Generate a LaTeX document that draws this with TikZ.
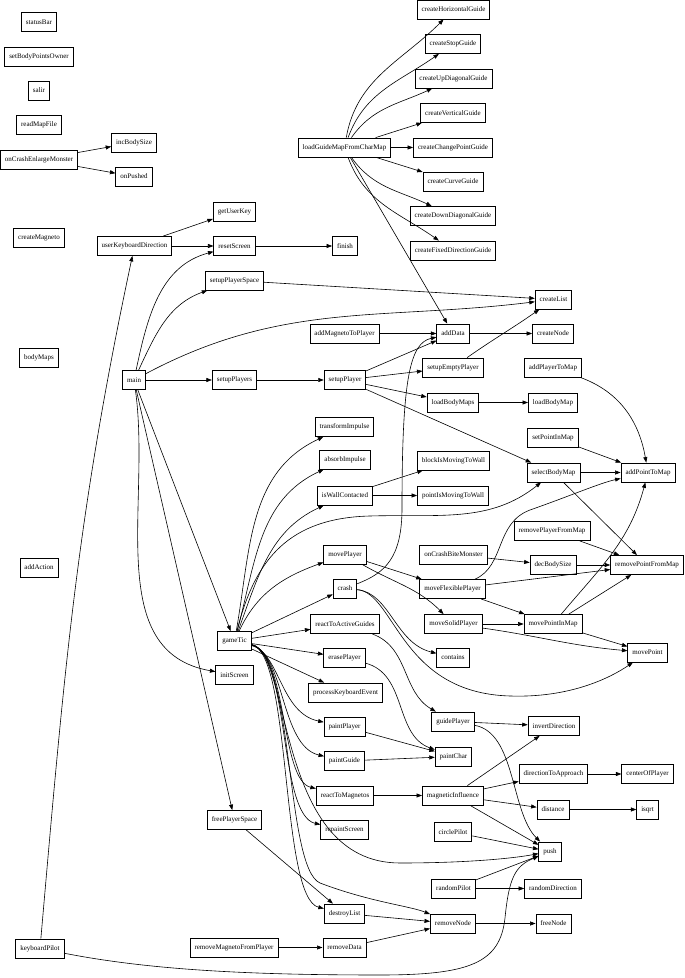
\documentclass[tikz,border=0pt]{standalone}
\usepackage{fontspec}
\setmainfont{Liberation Serif}
\usetikzlibrary{arrows.meta}

\begin{document}
\begin{tikzpicture}[x=1pt,y=1pt,
    fn/.style={draw, line width=0.8pt, minimum height=19pt, inner xsep=4.5pt, inner ysep=0pt,
      font=\fontsize{7}{8}\selectfont},
    call/.style={-{Triangle[length=5.5pt,width=4pt]}, line width=0.6pt}]
    \useasboundingbox (0,0) rectangle (685,978);
    % Functions nobody calls
    \node[fn] (statusBar) at (39,956) {statusBar};
    \node[fn] (setBodyPointsOwner) at (39,921.5) {setBodyPointsOwner};
    \node[fn] (salir) at (39,887.5) {salir};
    \node[fn] (readMapFile) at (39,853) {readMapFile};
    \node[fn] (onCrashEnlargeMonster) at (39,818.5) {onCrashEnlargeMonster};
    \node[fn] (createMagneto) at (39,740.5) {createMagneto};
    \node[fn] (bodyMaps) at (39,620) {bodyMaps};
    \node[fn] (addAction) at (39,410.5) {addAction};
    \node[fn] (keyboardPilot) at (40,29.5) {keyboardPilot};
    % Second column
    \node[fn] (incBodySize) at (134,835.5) {incBodySize};
    \node[fn] (onPushed) at (134,801.5) {onPushed};
    \node[fn] (userKeyboardDirection) at (134.5,732) {userKeyboardDirection};
    \node[fn] (main) at (134,598) {main};
    % Third column
    \node[fn] (getUserKey) at (234.5,766.5) {getUserKey};
    \node[fn] (resetScreen) at (234.5,732) {resetScreen};
    \node[fn] (setupPlayerSpace) at (234.5,697.5) {setupPlayerSpace};
    \node[fn] (setupPlayers) at (234.5,598) {setupPlayers};
    \node[fn] (gameTic) at (234.5,337) {gameTic};
    \node[fn] (initScreen) at (234.5,303) {initScreen};
    \node[fn] (freePlayerSpace) at (234.5,158) {freePlayerSpace};
    \node[fn] (removeMagnetoFromPlayer) at (234,30.5) {removeMagnetoFromPlayer};
    % Fourth column
    \node[fn] (loadGuideMapFromCharMap) at (344.5,830.5) {loadGuideMapFromCharMap};
    \node[fn] (finish) at (345,732) {finish};
    \node[fn] (addMagnetoToPlayer) at (344.5,644.5) {addMagnetoToPlayer};
    \node[fn] (setupPlayer) at (345,598) {setupPlayer};
    \node[fn] (transformImpulse) at (344.5,551) {transformImpulse};
    \node[fn] (absorbImpulse) at (345,518.5) {absorbImpulse};
    \node[fn] (isWallContacted) at (345,482.5) {isWallContacted};
    \node[fn] (movePlayer) at (345,423.5) {movePlayer};
    \node[fn] (crash) at (345,389.5) {crash};
    \node[fn] (reactToActiveGuides) at (345,354) {reactToActiveGuides};
    \node[fn] (erasePlayer) at (344.5,320.5) {erasePlayer};
    \node[fn] (processKeyboardEvent) at (345.5,285.5) {processKeyboardEvent};
    \node[fn] (paintPlayer) at (344.5,251.5) {paintPlayer};
    \node[fn] (paintGuide) at (344.5,217) {paintGuide};
    \node[fn] (reactToMagnetos) at (345,182.5) {reactToMagnetos};
    \node[fn] (repaintScreen) at (344.5,148) {repaintScreen};
    \node[fn] (destroyList) at (344.5,64.5) {destroyList};
    \node[fn] (removeData) at (344.5,30.5) {removeData};
    % Fifth column
    \node[fn] (createHorizontalGuide) at (453.5,968.5) {createHorizontalGuide};
    \node[fn] (createStopGuide) at (453,934) {createStopGuide};
    \node[fn] (createUpDiagonalGuide) at (453.5,899.5) {createUpDiagonalGuide};
    \node[fn] (createVerticalGuide) at (453,865) {createVerticalGuide};
    \node[fn] (createChangePointGuide) at (453,830.5) {createChangePointGuide};
    \node[fn] (createCurveGuide) at (453,796.5) {createCurveGuide};
    \node[fn] (createDownDiagonalGuide) at (453,762) {createDownDiagonalGuide};
    \node[fn] (createFixedDirectionGuide) at (453,727.5) {createFixedDirectionGuide};
    \node[fn] (addData) at (453,644.5) {addData};
    \node[fn] (setupEmptyPlayer) at (453,610.5) {setupEmptyPlayer};
    \node[fn] (loadBodyMaps) at (453,575.5) {loadBodyMaps};
    \node[fn] (blockIsMovingToWall) at (453.5,517.5) {blockIsMovingToWall};
    \node[fn] (pointIsMovingToWall) at (453,482.5) {pointIsMovingToWall};
    \node[fn] (onCrashBiteMonster) at (453.5,423.5) {onCrashBiteMonster};
    \node[fn] (moveFlexiblePlayer) at (452.5,389) {moveFlexiblePlayer};
    \node[fn] (moveSolidPlayer) at (453.5,354) {moveSolidPlayer};
    \node[fn] (contains) at (453,320.5) {contains};
    \node[fn] (guidePlayer) at (453,256.5) {guidePlayer};
    \node[fn] (paintChar) at (453.5,221.5) {paintChar};
    \node[fn] (magneticInfluence) at (453,182.5) {magneticInfluence};
    \node[fn] (circlePilot) at (453,146) {circlePilot};
    \node[fn] (randomPilot) at (453.5,89.5) {randomPilot};
    \node[fn] (removeNode) at (453,54.5) {removeNode};
    % Sixth column
    \node[fn] (createList) at (553.5,678.5) {createList};
    \node[fn] (createNode) at (553,644.5) {createNode};
    \node[fn] (addPlayerToMap) at (553,610.5) {addPlayerToMap};
    \node[fn] (loadBodyMap) at (553,575.5) {loadBodyMap};
    \node[fn] (setPointInMap) at (553,540.5) {setPointInMap};
    \node[fn] (selectBodyMap) at (553.5,505.5) {selectBodyMap};
    \node[fn] (removePlayerFromMap) at (552,447) {removePlayerFromMap};
    \node[fn] (decBodySize) at (553,413) {decBodySize};
    \node[fn] (movePointInMap) at (553,354) {movePointInMap};
    \node[fn] (invertDirection) at (554,252) {invertDirection};
    \node[fn] (directionToApproach) at (553.5,204) {directionToApproach};
    \node[fn] (distance) at (553,168.5) {distance};
    \node[fn] (push) at (550,126.5) {push};
    \node[fn] (randomDirection) at (553,89.5) {randomDirection};
    \node[fn] (freeNode) at (553.5,54.5) {freeNode};
    % Last column
    \node[fn] (addPointToMap) at (648,505.5) {addPointToMap};
    \node[fn] (removePointFromMap) at (647,413) {removePointFromMap};
    \node[fn] (movePoint) at (647.5,325.5) {movePoint};
    \node[fn] (centerOfPlayer) at (647.5,204) {centerOfPlayer};
    \node[fn] (isqrt) at (647.5,168.5) {isqrt};

    % Calls, top part
    \draw[call] (onCrashEnlargeMonster) -- (incBodySize);
    \draw[call] (onCrashEnlargeMonster) -- (onPushed);
    \draw[call] (userKeyboardDirection) -- (getUserKey);
    \draw[call] (userKeyboardDirection) -- (resetScreen);
    \draw[call] (resetScreen) -- (finish);
    \draw[call] (loadGuideMapFromCharMap) to[out=80,in=-135] (createHorizontalGuide);
    \draw[call] (loadGuideMapFromCharMap) to[out=70,in=-145] (createStopGuide);
    \draw[call] (loadGuideMapFromCharMap) to[out=55,in=-155] (createUpDiagonalGuide);
    \draw[call] (loadGuideMapFromCharMap) -- (createVerticalGuide);
    \draw[call] (loadGuideMapFromCharMap) -- (createChangePointGuide);
    \draw[call] (loadGuideMapFromCharMap) -- (createCurveGuide);
    \draw[call] (loadGuideMapFromCharMap) to[out=-55,in=155] (createDownDiagonalGuide);
    \draw[call] (loadGuideMapFromCharMap) to[out=-70,in=145] (createFixedDirectionGuide);
    \draw[call] (loadGuideMapFromCharMap) -- (addData);
    % main
    \draw[call] (main) to[out=78,in=195] (resetScreen);
    \draw[call] (main) to[out=65,in=200] (setupPlayerSpace);
    \draw[call] (main) to[out=28,in=187] (createList);
    \draw[call] (main) -- (setupPlayers);
    \draw[call] (main) -- (gameTic);
    \draw[call] (main) to[out=-82,in=170] (initScreen);
    \draw[call] (main) -- (freePlayerSpace);
    \draw[call] (setupPlayerSpace) -- (createList);
    \draw[call] (setupPlayers) -- (setupPlayer);
    % players and maps
    \draw[call] (addMagnetoToPlayer) -- (addData);
    \draw[call] (addData) -- (createNode);
    \draw[call] (setupPlayer) -- (addData);
    \draw[call] (setupPlayer) -- (setupEmptyPlayer);
    \draw[call] (setupPlayer) -- (loadBodyMaps);
    \draw[call] (setupPlayer) -- (selectBodyMap);
    \draw[call] (setupEmptyPlayer) to[out=35,in=-145] (createList);
    \draw[call] (loadBodyMaps) -- (loadBodyMap);
    \draw[call] (addPlayerToMap) to[out=-20,in=100] (addPointToMap);
    \draw[call] (setPointInMap) -- (addPointToMap);
    \draw[call] (selectBodyMap) -- (addPointToMap);
    \draw[call] (selectBodyMap) -- (removePointFromMap);
    \draw[call] (removePlayerFromMap) -- (removePointFromMap);
    \draw[call] (onCrashBiteMonster) -- (decBodySize);
    \draw[call] (decBodySize) -- (removePointFromMap);
    % gameTic
    \draw[call] (gameTic) to[out=80,in=205] (transformImpulse);
    \draw[call] (gameTic) to[out=75,in=205] (absorbImpulse);
    \draw[call] (gameTic) to[out=70,in=205] (isWallContacted);
    \draw[call] (gameTic) .. controls (255,420) and (290,460) .. (370,462)
        .. controls (440,464) and (490,455) .. (selectBodyMap);
    \draw[call] (gameTic) to[out=65,in=200] (movePlayer);
    \draw[call] (gameTic) -- (crash);
    \draw[call] (gameTic) -- (reactToActiveGuides);
    \draw[call] (gameTic) -- (erasePlayer);
    \draw[call] (gameTic) -- (processKeyboardEvent);
    \draw[call] (gameTic) .. controls (280,325) and (280,265) .. (paintPlayer);
    \draw[call] (gameTic) .. controls (285,325) and (280,232) .. (paintGuide);
    \draw[call] (gameTic) .. controls (288,325) and (280,198) .. (reactToMagnetos);
    \draw[call] (gameTic) .. controls (290,325) and (278,163) .. (repaintScreen);
    \draw[call] (gameTic) .. controls (292,325) and (275,115) .. (400,115)
        .. controls (470,115) and (515,120) .. (push);
    \draw[call] (gameTic) .. controls (292,325) and (280,80) .. (destroyList);
    \draw[call] (gameTic) .. controls (294,325) and (285,110) .. (320,95)
        .. controls (370,76) and (410,72) .. (removeNode);
    \draw[call] (isWallContacted) -- (blockIsMovingToWall);
    \draw[call] (isWallContacted) -- (pointIsMovingToWall);
    % moving
    \draw[call] (movePlayer) -- (moveFlexiblePlayer);
    \draw[call] (movePlayer) to[out=-30,in=135] (moveSolidPlayer);
    \draw[call] (moveFlexiblePlayer) -- (removePointFromMap);
    \draw[call] (moveFlexiblePlayer) -- (movePointInMap);
    \draw[call] (moveFlexiblePlayer) .. controls (505,412) and (495,455) .. (530,468)
        .. controls (570,482) and (600,495) .. (addPointToMap);
    \draw[call] (moveSolidPlayer) -- (movePointInMap);
    \draw[call] (moveSolidPlayer) to[out=-8,in=175] (movePoint);
    \draw[call] (movePointInMap) -- (movePoint);
    \draw[call] (movePointInMap) -- (removePointFromMap);
    \draw[call] (movePointInMap) to[out=50,in=-105] (addPointToMap);
    % crash
    \draw[call] (crash) .. controls (385,405) and (402,420) .. (402,470)
        .. controls (402,600) and (410,635) .. (addData);
    \draw[call] (crash) .. controls (390,385) and (395,335) .. (contains);
    \draw[call] (crash) .. controls (395,385) and (400,285) .. (510,282)
        .. controls (570,280) and (610,300) .. (movePoint);
    % guides, painting, magnets
    \draw[call] (reactToActiveGuides) to[out=-20,in=150] (guidePlayer);
    \draw[call] (erasePlayer) to[out=-15,in=160] (paintChar);
    \draw[call] (paintPlayer) -- (paintChar);
    \draw[call] (paintGuide) -- (paintChar);
    \draw[call] (guidePlayer) -- (invertDirection);
    \draw[call] (guidePlayer) to[out=-10,in=135,looseness=0.8] (push);
    \draw[call] (reactToMagnetos) -- (magneticInfluence);
    \draw[call] (magneticInfluence) -- (invertDirection);
    \draw[call] (magneticInfluence) -- (directionToApproach);
    \draw[call] (magneticInfluence) -- (distance);
    \draw[call] (magneticInfluence) -- (push);
    \draw[call] (directionToApproach) -- (centerOfPlayer);
    \draw[call] (distance) -- (isqrt);
    % pilots and lists
    \draw[call] (circlePilot) -- (push);
    \draw[call] (randomPilot) -- (push);
    \draw[call] (randomPilot) -- (randomDirection);
    \draw[call] (keyboardPilot) to[out=85,in=-102] (userKeyboardDirection);
    \draw[call] (keyboardPilot) .. controls (150,8) and (250,3) .. (380,3)
        .. controls (470,3) and (500,15) .. (505,60)
        .. controls (509,100) and (515,112) .. (push);
    \draw[call] (freePlayerSpace) -- (destroyList);
    \draw[call] (destroyList) -- (removeNode);
    \draw[call] (removeMagnetoFromPlayer) -- (removeData);
    \draw[call] (removeData) -- (removeNode);
    \draw[call] (removeNode) -- (freeNode);
\end{tikzpicture}
\end{document}
